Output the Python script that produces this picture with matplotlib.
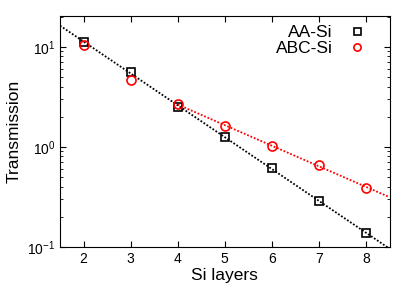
import matplotlib
matplotlib.use('Agg')
import matplotlib.pyplot as plt
import numpy as np

plt.rcParams['font.family'] = ['Liberation Sans', 'DejaVu Sans']
plt.rcParams['mathtext.fontset'] = 'custom'
plt.rcParams['mathtext.rm'] = 'Liberation Sans'

layers = [2, 3, 4, 5, 6, 7, 8]
aa_si = [11.2, 5.6, 2.5, 1.24, 0.61, 0.29, 0.137]
abc_si = [10.3, 4.7, 2.67, 1.61, 1.02, 0.66, 0.39]

fig = plt.figure(figsize=(4.15, 2.91), dpi=100)
ax = fig.add_axes([0.1446, 0.152, 0.794, 0.793])

# exponential fits (AA over all points, ABC from 4 layers on)
x = np.array(layers)
p1 = np.polyfit(x, np.log10(aa_si), 1)
xf1 = np.linspace(1.5, 8.5, 50)
ax.plot(xf1, 10 ** np.polyval(p1, xf1), color='black', lw=1.3, ls=(0, (1, 1)))

p2 = np.polyfit(x[2:], np.log10(abc_si[2:]), 1)
xf2 = np.linspace(4, 8.5, 50)
ax.plot(xf2, 10 ** np.polyval(p2, xf2), color='red', lw=1.3, ls=(0, (1, 1)))

ax.plot(layers, aa_si, 's', mfc='none', mec='black', ms=6.3, mew=1.2, label='AA-Si')
ax.plot(layers, abc_si, 'o', mfc='none', mec='red', ms=6.5, mew=1.2, label='ABC-Si')

ax.set_yscale('log')
ax.set_xlim(1.5, 8.5)
ax.set_ylim(0.1, 20.3)
ax.set_xticks(layers)
ax.tick_params(which='both', direction='in', top=True, right=True, labelsize=10)
ax.tick_params(which='major', length=4)
ax.tick_params(which='minor', length=2)
ax.tick_params(axis='x', which='minor', top=False, bottom=False)

ax.set_xlabel('Si layers', fontsize=12.5, labelpad=2)
ax.set_ylabel('Transmission', fontsize=12.5)

ax.legend(loc='upper right', bbox_to_anchor=(0.98, 1.0), frameon=False,
          markerfirst=False, fontsize=12.5, handletextpad=0.4,
          labelspacing=0.05, borderaxespad=0.1, markerscale=0.8)

fig.savefig('out.png')
